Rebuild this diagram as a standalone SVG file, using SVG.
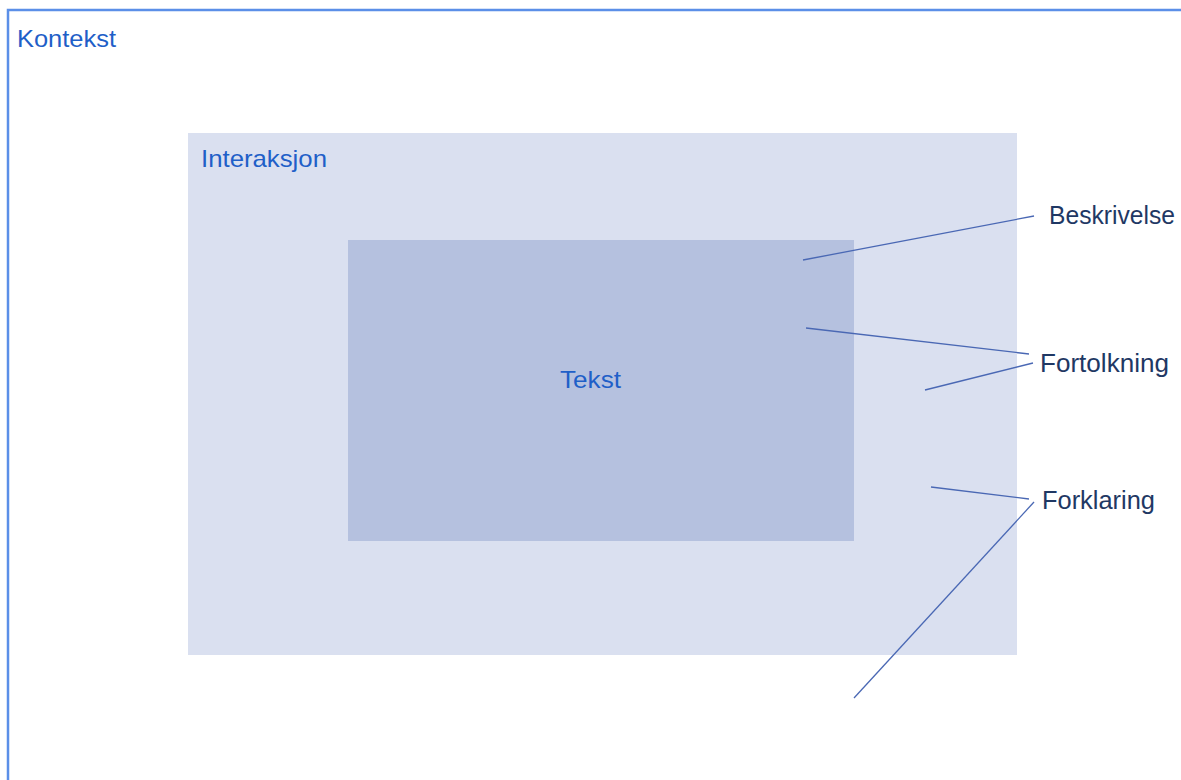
<svg xmlns="http://www.w3.org/2000/svg" width="1181" height="780" viewBox="0 0 1181 780">
  <style>
    .lbl { font-family: "Liberation Sans", Arial, sans-serif; }
    .blue { fill: #1f5fc8; font-size: 24px; }
    .navy { fill: #1f3864; font-size: 25px; }
    .conn line { stroke: #4a68b4; stroke-width: 1.3; fill: none; }
  </style>
  <rect width="1181" height="780" fill="#ffffff"/>

  <!-- outer context frame -->
  <g id="kontekst">
    <path d="M8 780 V10 H1181" fill="none" stroke="#5b8fe8" stroke-width="2.5"/>
    <text class="lbl blue" x="17" y="47" textLength="99" lengthAdjust="spacingAndGlyphs">Kontekst</text>
  </g>

  <!-- interaction layer -->
  <g id="interaksjon">
    <rect x="188" y="133" width="829" height="522" fill="#dae0f0"/>
    <text class="lbl blue" x="201" y="167" textLength="126" lengthAdjust="spacingAndGlyphs">Interaksjon</text>
  </g>

  <!-- inner text block -->
  <g id="tekst">
    <rect x="348" y="240" width="506" height="301" fill="#b5c1df"/>
    <text class="lbl blue" x="560" y="388" textLength="61" lengthAdjust="spacingAndGlyphs">Tekst</text>
  </g>

  <!-- callout connectors -->
  <g id="connectors" class="conn">
    <line x1="803" y1="260" x2="1034" y2="216"/>
    <line x1="806" y1="328" x2="1029" y2="354"/>
    <line x1="925" y1="390" x2="1033" y2="363"/>
    <line x1="931" y1="487" x2="1029" y2="499"/>
    <line x1="1034" y1="502" x2="854" y2="698"/>
  </g>

  <g id="beskrivelse">
    <text class="lbl navy" x="1049" y="224" textLength="126" lengthAdjust="spacingAndGlyphs">Beskrivelse</text>
  </g>
  <g id="fortolkning">
    <text class="lbl navy" x="1040" y="372" textLength="129" lengthAdjust="spacingAndGlyphs">Fortolkning</text>
  </g>
  <g id="forklaring">
    <text class="lbl navy" x="1042" y="509" textLength="113" lengthAdjust="spacingAndGlyphs">Forklaring</text>
  </g>
</svg>
